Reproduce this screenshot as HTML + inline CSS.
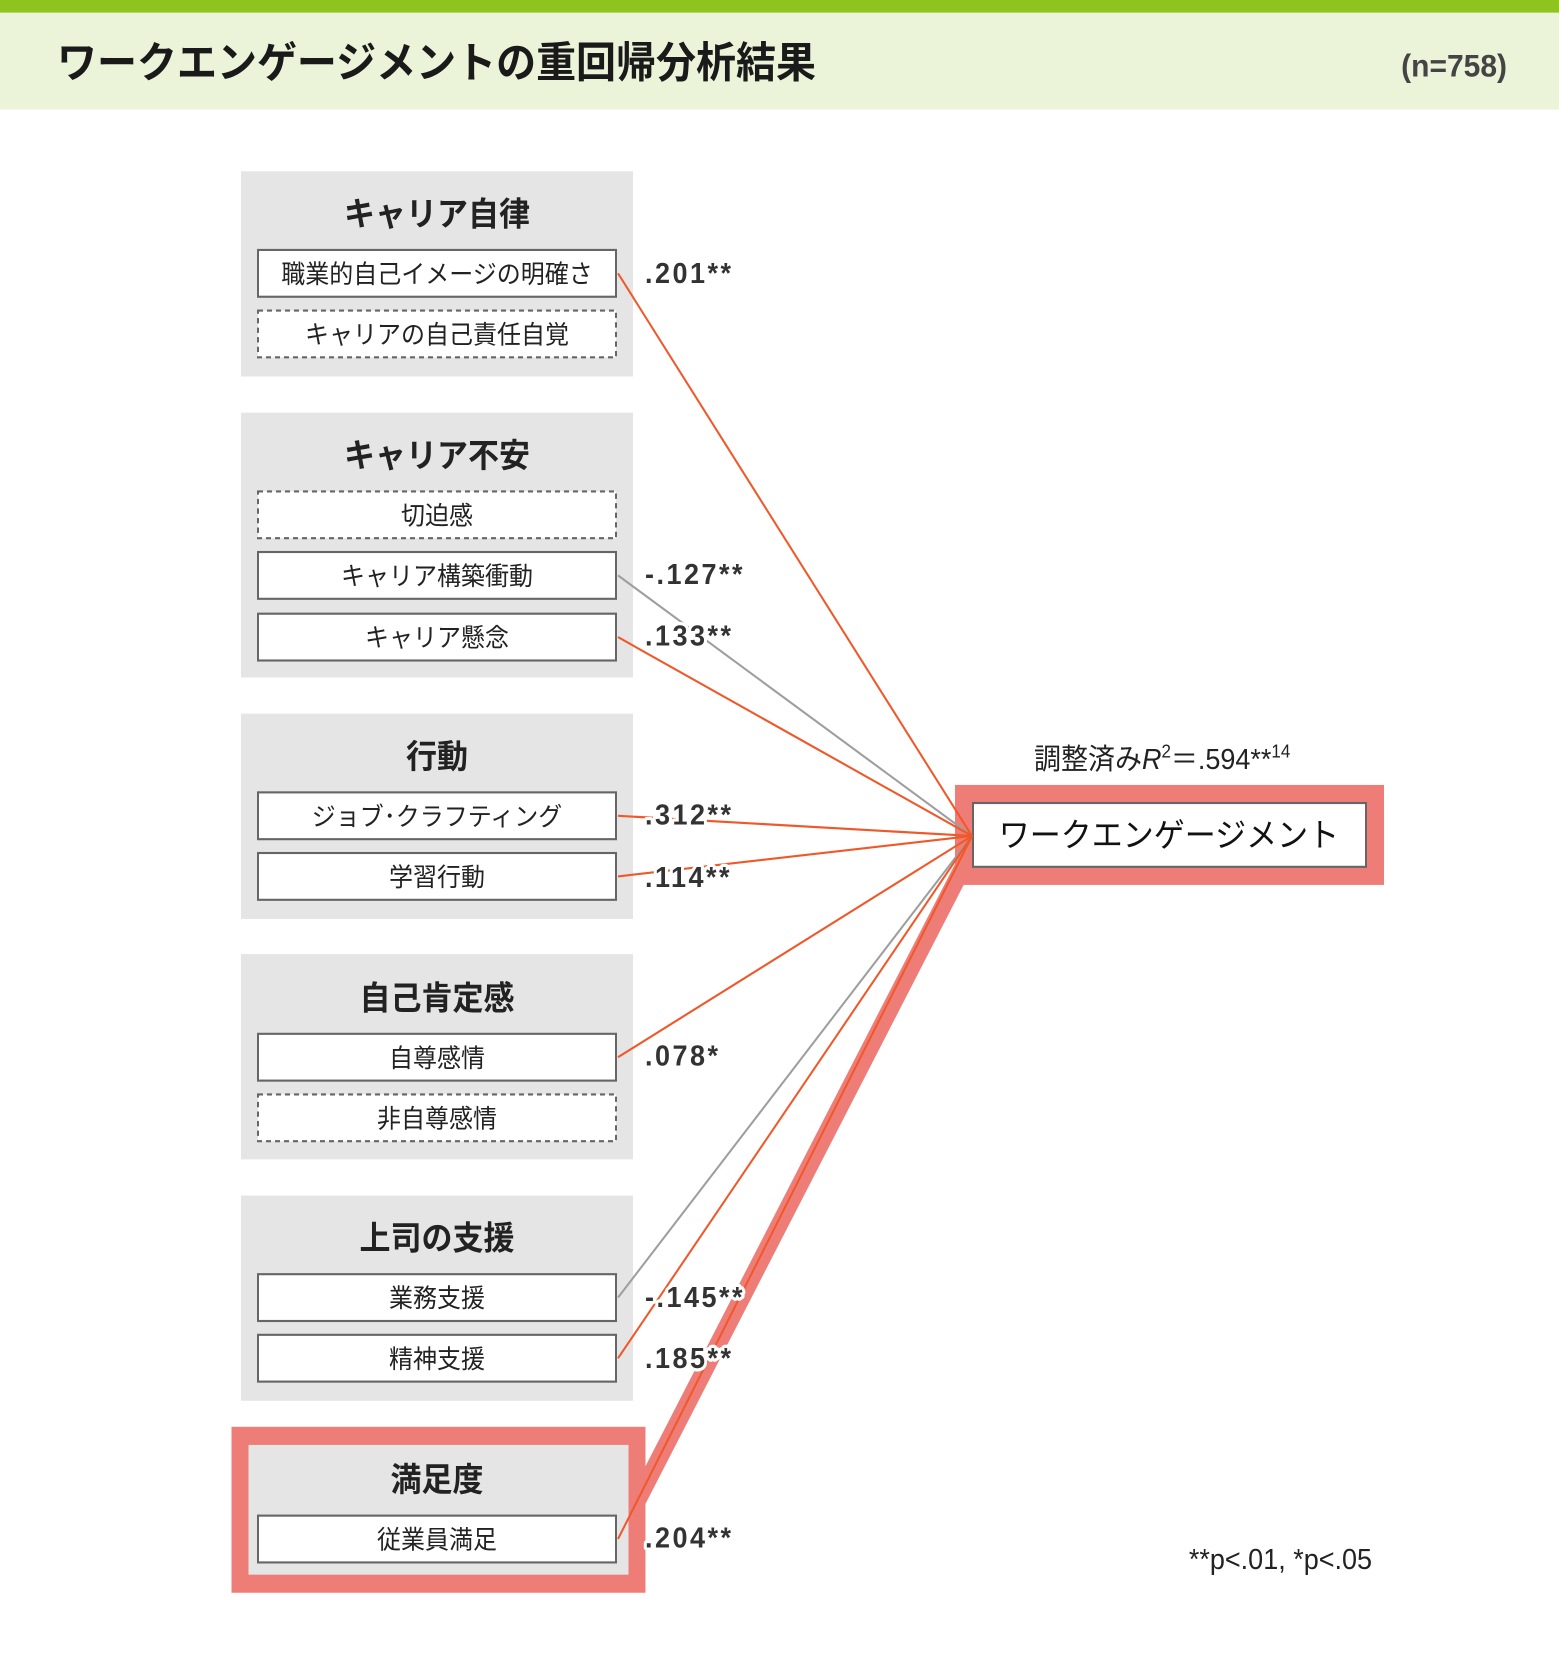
<!DOCTYPE html>
<html><head><meta charset="utf-8"><style>
body{margin:0;width:1559px;height:1667px;background:#fff;overflow:hidden;font-family:"Liberation Sans","Noto Sans CJK JP",sans-serif;}
</style></head><body>
<svg width="1559" height="1667" viewBox="0 0 1559 1667" xmlns="http://www.w3.org/2000/svg" style="position:absolute;left:0;top:0" font-family="Liberation Sans, Noto Sans CJK JP, sans-serif">
<g transform="scale(1,1.0636)">
<rect x="0" y="0" width="1559" height="12" fill="#8fc31f"/>
<rect x="0" y="12" width="1559" height="91" fill="#ebf4d8"/>
<text x="57" y="73" font-size="40" font-weight="bold" fill="#1a1a1a">ワークエンゲージメントの重回帰分析結果</text>
<text x="1507" y="72" font-size="30" font-weight="bold" fill="#444" text-anchor="end">(n=758)</text>

<g fill="#e5e5e5">
<rect x="241" y="161" width="392" height="193"/>
<rect x="241" y="388" width="392" height="249"/>
<rect x="241" y="671" width="392" height="193"/>
<rect x="241" y="897" width="392" height="193"/>
<rect x="241" y="1124" width="392" height="193"/>
</g>

<line x1="615" y1="1452" x2="966" y2="810" stroke="#ee7d78" stroke-width="17"/>
<rect x="240" y="1350" width="397" height="139" fill="#e5e5e5" stroke="#ee7d78" stroke-width="17"/>

<g font-size="31" font-weight="bold" fill="#222" text-anchor="middle">
<text x="437" y="212">キャリア自律</text>
<text x="437" y="439">キャリア不安</text>
<text x="437" y="722">行動</text>
<text x="437" y="949">自己肯定感</text>
<text x="437" y="1175">上司の支援</text>
<text x="437" y="1402">満足度</text>
</g>

<g fill="#fff" stroke="#666" stroke-width="2">
<rect x="258" y="235" width="358" height="44"/>
<rect x="258" y="519" width="358" height="44"/>
<rect x="258" y="577" width="358" height="44"/>
<rect x="258" y="745" width="358" height="44"/>
<rect x="258" y="802" width="358" height="44"/>
<rect x="258" y="972" width="358" height="44"/>
<rect x="258" y="1198" width="358" height="44"/>
<rect x="258" y="1255" width="358" height="44"/>
<rect x="258" y="1425" width="358" height="44"/>
</g>
<g fill="#fff" stroke="#666" stroke-width="2" stroke-dasharray="5,4">
<rect x="258" y="292" width="358" height="44"/>
<rect x="258" y="462" width="358" height="44"/>
<rect x="258" y="1029" width="358" height="44"/>
</g>
<g font-size="24" fill="#222" text-anchor="middle">
<text x="437" y="266">職業的自己イメージの明確さ</text>
<text x="437" y="323">キャリアの自己責任自覚</text>
<text x="437" y="493">切迫感</text>
<text x="437" y="550">キャリア構築衝動</text>
<text x="437" y="608">キャリア懸念</text>
<text x="437" y="776">ジョブ･クラフティング</text>
<text x="437" y="833">学習行動</text>
<text x="437" y="1003">自尊感情</text>
<text x="437" y="1060">非自尊感情</text>
<text x="437" y="1229">業務支援</text>
<text x="437" y="1286">精神支援</text>
<text x="437" y="1456">従業員満足</text>
</g>

<rect x="955" y="738" width="429" height="94" fill="#ee7d78"/>
<rect x="973" y="755" width="393" height="60" fill="#fff" stroke="#666" stroke-width="2"/>
<text x="1169" y="796" font-size="31" fill="#111" text-anchor="middle">ワークエンゲージメント</text>
<text x="1034" y="723" font-size="27" fill="#222">調整済み<tspan font-style="italic">R</tspan><tspan font-size="17" dy="-11">2</tspan><tspan dy="11">＝.594**</tspan><tspan font-size="17" dy="-11">14</tspan></text>

<g stroke-width="2" fill="none">
<line x1="618" y1="541" x2="972" y2="786" stroke="#9e9e9e"/>
<line x1="618" y1="1220" x2="972" y2="786" stroke="#9e9e9e"/>
<line x1="618" y1="257" x2="972" y2="786" stroke="#f0582a"/>
<line x1="618" y1="599" x2="972" y2="786" stroke="#f0582a"/>
<line x1="618" y1="767" x2="972" y2="786" stroke="#f0582a"/>
<line x1="618" y1="824" x2="972" y2="786" stroke="#f0582a"/>
<line x1="618" y1="994" x2="972" y2="786" stroke="#f0582a"/>
<line x1="618" y1="1277" x2="972" y2="786" stroke="#f0582a"/>
<line x1="618" y1="1447" x2="972" y2="786" stroke="#f0582a"/>
</g>

<g font-size="27" font-weight="bold" fill="#333" letter-spacing="2.5" stroke="#fff" stroke-width="6" paint-order="stroke" stroke-linejoin="round">
<text x="645" y="266">.201**</text>
<text x="645" y="549">-.127**</text>
<text x="645" y="607">.133**</text>
<text x="645" y="775">.312**</text>
<text x="645" y="834">.114**</text>
<text x="645" y="1002">.078*</text>
<text x="645" y="1229">-.145**</text>
<text x="645" y="1286">.185**</text>
<text x="645" y="1455">.204**</text>
</g>
<text x="1372" y="1475" font-size="27" fill="#222" text-anchor="end">**p&lt;.01, *p&lt;.05</text>
</g>
</svg>
</body></html>
